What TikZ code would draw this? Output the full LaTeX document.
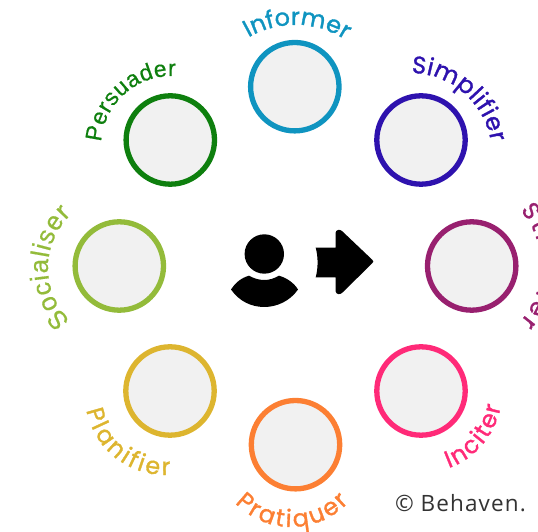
\documentclass[tikz,border=0pt]{standalone}
\usepackage{fontspec}
\setmainfont{Poppins}
\newfontfamily\labfont[FakeBold=1.3]{Poppins}
\newfontfamily\arialish[FakeBold=0.6]{Liberation Sans}
\newfontfamily\copyfont[LetterSpace=5]{Open Sans}
\usetikzlibrary{decorations.text,calc}
\definecolor{cInformer}{HTML}{0F94C0}
\definecolor{cSimplifier}{HTML}{2E12AE}
\definecolor{cStimuler}{HTML}{98206F}
\definecolor{cInciter}{HTML}{FF2A78}
\definecolor{cPratiquer}{HTML}{FC7F33}
\definecolor{cPlanifier}{HTML}{DDB52F}
\definecolor{cSocialiser}{HTML}{93BB3A}
\definecolor{cPersuader}{HTML}{0E7F0E}
\definecolor{ringfill}{HTML}{F1F1F1}
\tikzset{
  ring/.style={circle,draw=#1,fill=ringfill,line width=5.3pt,minimum size=88.4pt,inner sep=0pt,outer sep=0pt},
}
% #1 colour, #2 font, #3 size, #4 cx, #5 cy (px, y down), #6 r, #7 start, #8 end, #9 text
\newcommand{\arclabel}[9]{%
  \path[decorate,decoration={text along path,text align=fit to path,
    text={|#2\fontsize{#3}{#3}\selectfont\color{#1}|#9}}]
    ($(#4,532-#5)+(#7:#6)$) arc[start angle=#7,end angle=#8,radius=#6];}
\begin{document}
\begin{tikzpicture}[x=1pt,y=1pt]
\useasboundingbox (0,0) rectangle (538,532);
\clip (0,0) rectangle (538,532);
\node[ring=cInformer]   (informer)   at (294.8,445.3) {};
\node[ring=cSimplifier] (simplifier) at (421,392) {};
\node[ring=cStimuler]   (stimuler)   at (471.7,266) {};
\node[ring=cInciter]    (inciter)    at (421,141) {};
\node[ring=cPratiquer]  (pratiquer)  at (295.5,87.3) {};
\node[ring=cPlanifier]  (planifier)  at (170,141) {};
\node[ring=cSocialiser] (socialiser) at (119.3,266) {};
\node[ring=cPersuader]  (persuader)  at (170.3,392) {};
\arclabel{cInformer}{\labfont}{24}{295}{118}{93}{120}{58}{Informer}
\arclabel{cSimplifier}{\labfont}{24}{410}{155}{82}{89}{9}{Simplifier}
\arclabel{cStimuler}{\labfont}{24}{456}{266}{85}{41}{-41}{Stimuler}
\arclabel{cInciter}{\labfont}{24}{421}{392}{81}{-70}{-10}{Inciter}
\arclabel{cPratiquer}{\labfont}{24}{291.5}{448.5}{78.5}{224}{317}{Pratiquer}
\arclabel{cPlanifier}{\labfont}{24}{165}{395}{80}{191}{274}{Planifier}
\arclabel{cSocialiser}{\arialish}{26}{121.6}{268}{73.6}{226}{133}{Socialiser}
\arclabel{cPersuader}{\arialish}{23}{172}{147}{71}{176}{87}{Persuader}
% person icon
\node[circle,fill=black,minimum size=39.4pt,inner sep=0pt,outer sep=0pt] (head) at (264.3,278) {};
\fill[black] (231,242.5) .. controls (235,249) and (241,254) .. (249,256.3)
  .. controls (254,253.5) and (259,252) .. (264.3,252) .. controls (269.5,252) and (274,253.5) .. (279,256.3)
  .. controls (287,254) and (294,249) .. (298,242.5)
  .. controls (290,231) and (277,225) .. (264.3,225) .. controls (251,225) and (239,231) .. (231,242.5) -- cycle;
% arrow icon
\fill[black] (315.7,284.3) .. controls (318.2,275) and (318.2,264) .. (315.7,254.7) -- (335.7,254.7)
  -- (335.7,240.5) .. controls (335.7,238) and (340,236.5) .. (342.5,239.5)
  -- (372,268.5) .. controls (373.8,270) and (373.8,271) .. (372,272.5)
  -- (342.5,300.5) .. controls (340,303.5) and (335.7,302) .. (335.7,299.5)
  -- (335.7,284.3) -- cycle;
\node[font=\copyfont\fontsize{22.5}{22.5}\selectfont,text=black!80,anchor=base east,inner sep=0pt] (copy) at (526,20.5) {© Behaven.};
\end{tikzpicture}
\end{document}
